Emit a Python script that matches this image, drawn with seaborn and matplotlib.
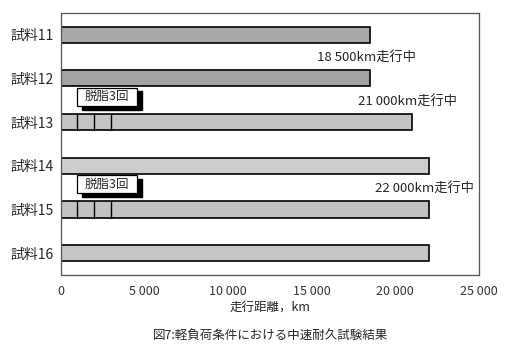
import pandas as pd
import matplotlib.pyplot as plt
import seaborn as sns

# data
samples = ['試料11', '試料12', '試料13', '試料14', '試料15', '試料16']
distance_km = [18500, 18500, 21000, 22000, 22000, 22000]
bar_colors = ['#a9a9a9', '#a4a4a4', '#c4c4c4', '#cdcdcd', '#c2c2c2', '#c6c6c6']
degrease_marks = [1000, 2000, 3000]
degrease_samples = ['試料13', '試料15']
running_notes = ['18 500km走行中', '21 000km走行中', '22 000km走行中']
note_pos = [(0.5, 18500), (1.5, 21000), (3.5, 22000)]
xticks = [0, 5000, 10000, 15000, 20000, 25000]
xtick_labels = ['0', '5 000', '10 000', '15 000', '20 000', '25 000']

df = pd.DataFrame({'sample': samples, 'km': distance_km})

sns.set_style('white')
plt.rcParams['font.family'] = ['Noto Sans CJK JP', 'DejaVu Sans']

fig = plt.figure(figsize=(5.1, 3.54), dpi=100)
ax = fig.add_axes([0.119, 0.223, 0.820, 0.741])

sns.barplot(data=df, x='km', y='sample', hue='sample', palette=bar_colors,
            legend=False, width=0.37, edgecolor='black', linewidth=1.2, ax=ax)

# segment lines for degreasing + label box with shadow
for s in degrease_samples:
    i = samples.index(s)
    for m in degrease_marks:
        ax.plot([m, m], [i - 0.185, i + 0.185], color='black', lw=1.0)
    y0 = i - 0.79
    ax.add_patch(plt.Rectangle((1300, y0 + 0.09), 3570, 0.42, fc='black', ec='black', zorder=3))
    ax.add_patch(plt.Rectangle((1000, y0), 3570, 0.42, fc='white', ec='black', lw=0.9, zorder=4))
    ax.text(2785, y0 + 0.21, '脱脂3回', fontsize=9, va='center', ha='center', zorder=5)

for txt, (y, xend) in zip(running_notes, note_pos):
    ax.text(xend - 3200, y + 0.05, txt, fontsize=9.5, va='center', ha='left')

ax.set_xlim(0, 25000)
ax.set_ylim(5.5, -0.5)
ax.set_xticks(xticks)
ax.set_xticklabels(xtick_labels, fontsize=9, color='#333333')
ax.set_yticks(range(6))
ax.set_yticklabels(samples, fontsize=10)
ax.set_yticks([0.5, 1.5, 2.5, 3.5, 4.5], minor=True)
ax.tick_params(axis='y', which='major', length=0, pad=5)
ax.tick_params(axis='y', which='minor', length=3, direction='inout', color='#555555')
ax.tick_params(axis='x', length=3, direction='in', color='#888888', pad=7)
ax.set_xlabel('走行距離，km', fontsize=9, labelpad=3)
ax.set_ylabel('')
for sp in ax.spines.values():
    sp.set_color('#555555')
    sp.set_linewidth(0.9)

fig.text(0.53, 0.04, '図7:軽負荷条件における中速耐久試験結果', fontsize=9, ha='center')

fig.savefig('out.png', dpi=100)
